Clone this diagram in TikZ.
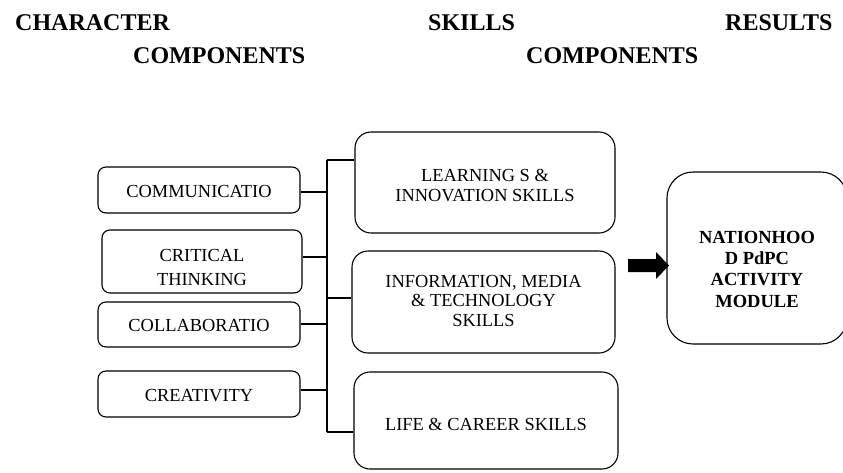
\documentclass[tikz,border=0pt]{standalone}
\usepackage{fontspec}
\setmainfont{Liberation Serif}
\begin{document}
\begin{tikzpicture}[x=1pt,y=-1pt,
 title/.style={font=\fontsize{24}{28}\selectfont\bfseries, anchor=base west, inner sep=0},
 lbox/.style={draw, line width=1.1pt, rounded corners=8pt, font=\fontsize{18.4}{24}\selectfont, align=center, inner sep=0, text depth=0pt},
 rbox/.style={draw, line width=1.1pt, rounded corners=16pt, font=\fontsize{18.4}{19.5}\selectfont, align=center, inner sep=0, text depth=0pt},
 conn/.style={line width=1.5pt}]
\useasboundingbox (0,0) rectangle (843,472);

% titles
\node[title] (t1) at (15,30) {CHARACTER};
\node[title] (t2) at (133,63) {COMPONENTS};
\node[title] (t3) at (428,30) {SKILLS};
\node[title] (t4) at (526,63) {COMPONENTS};
\node[title] (t5) at (725,30) {RESULTS};

% left boxes
\node[lbox, minimum width=202pt, minimum height=46pt, text height=14pt] (comm) at (199,190) {COMMUNICATIO};
\node[lbox, minimum width=200pt, minimum height=63pt, text height=47pt] (crit) at (202,261.5) {CRITICAL\\THINKING};
\node[lbox, minimum width=202pt, minimum height=45pt, text height=13pt] (coll) at (199,324.5) {COLLABORATIO};
\node[lbox, minimum width=202pt, minimum height=46pt, text height=14pt] (crea) at (199,394) {CREATIVITY};

% right boxes
\node[rbox, minimum width=260pt, minimum height=101pt, text height=37pt] (learn) at (485,182.5) {LEARNING S \&\\INNOVATION SKILLS};
\node[rbox, minimum width=263pt, minimum height=102pt, text height=48pt] (info) at (483.5,302) {INFORMATION, MEDIA\\\& TECHNOLOGY\\SKILLS};
\node[rbox, minimum width=264pt, minimum height=97pt, text height=19pt] (life) at (486,420.5) {LIFE \& CAREER SKILLS};

\node[rbox, rounded corners=26pt, minimum width=180pt, minimum height=172pt, font=\fontsize{18.5}{21.3}\selectfont\bfseries, text height=98pt] (nat) at (757,258) {NATIONHOO\\D PdPC\\ACTIVITY\\MODULE};

% bus connectors
\coordinate (busT) at (327,160);
\coordinate (busI) at (327,298);
\coordinate (busB) at (327,432);
\draw[conn] (busT) -- (busB);
\draw[conn] ([yshift=-2pt]comm.east) -- ([yshift=-2pt]comm.east -| busT);
\draw[conn] ([yshift=4.5pt]crit.east) -- ([yshift=4.5pt]crit.east -| busT);
\draw[conn] ([yshift=0.5pt]coll.east) -- ([yshift=0.5pt]coll.east -| busT);
\draw[conn] ([yshift=4pt]crea.east) -- ([yshift=4pt]crea.east -| busT);
\draw[conn] (busT) -- (busT -| learn.west);
\draw[conn] (busI) -- (busI -| info.west);
\draw[conn] (busB) -- (busB -| life.west);

% block arrow
\fill (628,259) -- (656,259) -- (656,252) -- (669,265.5) -- (656,279) -- (656,272) -- (628,272) -- cycle;
\end{tikzpicture}
\end{document}
